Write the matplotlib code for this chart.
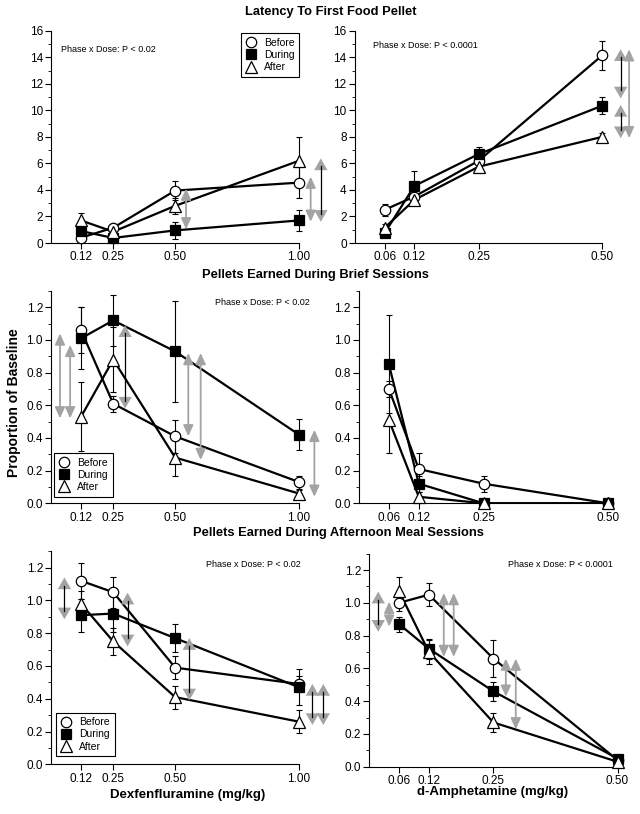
import matplotlib.pyplot as plt
from matplotlib.ticker import MultipleLocator, FormatStrFormatter

plt.rcParams['font.family'] = ['Liberation Sans', 'DejaVu Sans']

# doses
dex_doses = [0.12, 0.25, 0.50, 1.00]
amp_doses = [0.06, 0.12, 0.25, 0.50]
dex_labels = ['0.12', '0.25', '0.50', '1.00']
amp_labels = ['0.06', '0.12', '0.25', '0.50']
phases = ['Before', 'During', 'After']

# latency to first food pellet - dexfenfluramine
lat_dex_before = [0.4, 1.15, 3.95, 4.55]
lat_dex_before_err = [0.3, 0.3, 0.7, 1.15]
lat_dex_during = [0.9, 0.38, 0.95, 1.7]
lat_dex_during_err = [0.5, 0.2, 0.65, 0.8]
lat_dex_after = [1.7, 0.85, 2.8, 6.2]
lat_dex_after_err = [0.55, 0.3, 0.6, 1.8]

# latency - d-amphetamine
lat_amp_before = [2.5, 3.5, 6.2, 14.15]
lat_amp_before_err = [0.45, 0.3, 0.3, 1.1]
lat_amp_during = [0.75, 4.3, 6.7, 10.35]
lat_amp_during_err = [0.3, 1.1, 0.5, 0.65]
lat_amp_after = [1.15, 3.25, 5.75, 8.0]
lat_amp_after_err = [0.3, 0.3, 0.2, 0.3]

# brief sessions - dexfenfluramine
brief_dex_before = [1.06, 0.61, 0.41, 0.13]
brief_dex_before_err = [0.14, 0.05, 0.1, 0.04]
brief_dex_during = [1.01, 1.12, 0.93, 0.42]
brief_dex_during_err = [0.19, 0.155, 0.31, 0.095]
brief_dex_after = [0.53, 0.88, 0.28, 0.06]
brief_dex_after_err = [0.21, 0.2, 0.11, 0.02]

# brief sessions - d-amphetamine
brief_amp_before = [0.70, 0.21, 0.12, 0.0]
brief_amp_before_err = [0.05, 0.1, 0.05, 0.0]
brief_amp_during = [0.85, 0.12, 0.0, 0.0]
brief_amp_during_err = [0.3, 0.05, 0.0, 0.0]
brief_amp_after = [0.51, 0.04, 0.0, 0.0]
brief_amp_after_err = [0.2, 0.03, 0.0, 0.0]

# afternoon meal sessions - dexfenfluramine
meal_dex_before = [1.12, 1.05, 0.59, 0.49]
meal_dex_before_err = [0.11, 0.095, 0.07, 0.05]
meal_dex_during = [0.91, 0.92, 0.77, 0.47]
meal_dex_during_err = [0.1, 0.11, 0.085, 0.11]
meal_dex_after = [0.98, 0.75, 0.41, 0.26]
meal_dex_after_err = [0.08, 0.08, 0.07, 0.07]

# afternoon meal sessions - d-amphetamine
meal_amp_before = [1.0, 1.05, 0.66, 0.04]
meal_amp_before_err = [0.05, 0.07, 0.115, 0.02]
meal_amp_during = [0.87, 0.72, 0.46, 0.05]
meal_amp_during_err = [0.045, 0.06, 0.06, 0.02]
meal_amp_after = [1.07, 0.70, 0.27, 0.03]
meal_amp_after_err = [0.09, 0.075, 0.06, 0.02]

# difference arrows: (dose position, top, bottom, shaft colour)
arrows_lat_dex = [(0.544, 4.1, 1.03, 'g'), (1.047, 5.0, 1.6, 'g'), (1.088, 6.37, 1.6, 'k')]
arrows_lat_amp = [(0.537, 14.6, 10.9, 'k'), (0.537, 10.4, 7.9, 'k'), (0.554, 14.6, 7.9, 'g')]
arrows_brief_dex = [(0.035, 1.04, 0.52, 'g'), (0.076, 0.97, 0.52, 'g'), (0.298, 1.09, 0.58, 'k'),
                    (0.553, 0.92, 0.41, 'g'), (0.603, 0.92, 0.265, 'g'), (1.062, 0.45, 0.04, 'g')]
arrows_brief_amp = []
arrows_meal_dex = [(0.053, 1.14, 0.885, 'k'), (0.308, 1.047, 0.72, 'k'), (0.557, 0.77, 0.39, 'k'),
                   (1.054, 0.49, 0.24, 'k'), (1.098, 0.49, 0.24, 'k')]
arrows_meal_amp = [(0.018, 1.068, 0.824, 'k'), (0.040, 1.007, 0.855, 'g'), (0.150, 1.06, 0.67, 'g'),
                   (0.170, 1.06, 0.67, 'g'), (0.275, 0.66, 0.427, 'g'), (0.295, 0.66, 0.228, 'g')]

GREY = '#a3a3a3'
styles = [dict(marker='o', mfc='white', ms=7.5),
          dict(marker='s', mfc='black', ms=7.5),
          dict(marker='^', mfc='white', ms=8)]

fig = plt.figure(figsize=(6.4, 8.14), dpi=100)
W, H = 640.0, 814.0


def make_axes(left, bottom_px, width_px, height_px):
    return fig.add_axes([left / W, (H - bottom_px) / H, width_px / W, height_px / H])


def draw_panel(ax, doses, labels, series, errs, xmax, ymax, major, minor, fmt, arrows):
    for y, e in zip(series, errs):
        ax.errorbar(doses, y, yerr=e, fmt='none', ecolor='black', elinewidth=0.8,
                    capsize=2.2, capthick=0.8, zorder=2)
        ax.plot(doses, y, color='black', lw=1.6, zorder=3)
    for i, y in enumerate(series):
        st = styles[i]
        ax.plot(doses, y, ls='none', marker=st['marker'], mfc=st['mfc'], mec='black',
                mew=0.9, ms=st['ms'], zorder=4, clip_on=False)
    ax.set_xlim(0, xmax)
    ax.set_ylim(0, ymax)
    ax.spines['top'].set_visible(False)
    ax.spines['right'].set_visible(False)
    ax.spines['bottom'].set_bounds(0, doses[-1])
    ax.set_xticks(doses)
    ax.set_xticklabels(labels)
    ax.yaxis.set_major_locator(MultipleLocator(major))
    ax.yaxis.set_minor_locator(MultipleLocator(minor))
    ax.yaxis.set_major_formatter(FormatStrFormatter(fmt))
    ax.tick_params(direction='out', length=4, width=0.8, labelsize=8.5, pad=2)
    ax.tick_params(which='minor', direction='out', length=2.5, width=0.6)
    for s in ['left', 'bottom']:
        ax.spines[s].set_linewidth(0.8)
    # arrows
    px_per_unit = ax.transData.transform((0, 1))[1] - ax.transData.transform((0, 0))[1]
    hl = 8.0 / px_per_unit
    for x, top, bot, shaft in arrows:
        if shaft == 'g':
            style = '<|-|>,head_length=0.55,head_width=0.25'
            lw = 1.3
        else:
            style = '<|-|>,head_length=0.7,head_width=0.4'
            lw = 0.01
        ax.annotate('', xy=(x, bot), xytext=(x, top),
                    arrowprops=dict(arrowstyle=style, color=GREY, lw=lw,
                                    shrinkA=0, shrinkB=0, mutation_scale=12),
                    annotation_clip=False)
        if shaft == 'k':
            ax.plot([x, x], [bot + hl, top - hl], color='black', lw=0.9, clip_on=False, zorder=5)


def add_legend(ax, fx, fy):
    handles = []
    for st in styles:
        h, = ax.plot([], [], ls='none', marker=st['marker'], mfc=st['mfc'], mec='black',
                     mew=0.9, ms=st['ms'])
        handles.append(h)
    leg = ax.legend(handles, phases, loc='upper left', bbox_to_anchor=(fx / W, 1 - fy / H),
                    bbox_transform=fig.transFigure, borderaxespad=0, fontsize=7.5,
                    handlelength=1.1, handletextpad=0.7, labelspacing=0.2,
                    borderpad=0.45, fancybox=False, framealpha=1)
    leg.get_frame().set_edgecolor('black')
    leg.get_frame().set_linewidth(0.8)


# latency row
ax1 = make_axes(51.3, 243, 272.5, 212.3)
draw_panel(ax1, dex_doses, dex_labels, [lat_dex_before, lat_dex_during, lat_dex_after],
           [lat_dex_before_err, lat_dex_during_err, lat_dex_after_err],
           1.1, 16, 2, 1, '%d', arrows_lat_dex)
add_legend(ax1, 240.7, 33.3)

ax2 = make_axes(355, 243, 282, 212.3)
draw_panel(ax2, amp_doses, amp_labels, [lat_amp_before, lat_amp_during, lat_amp_after],
           [lat_amp_before_err, lat_amp_during_err, lat_amp_after_err],
           0.57, 16, 2, 1, '%d', arrows_lat_amp)

# brief sessions row
ax3 = make_axes(51.3, 503.3, 272.5, 212.3)
draw_panel(ax3, dex_doses, dex_labels, [brief_dex_before, brief_dex_during, brief_dex_after],
           [brief_dex_before_err, brief_dex_during_err, brief_dex_after_err],
           1.1, 1.3, 0.2, 0.1, '%.1f', arrows_brief_dex)
add_legend(ax3, 54, 453)

ax4 = make_axes(359, 503.3, 284, 212.3)
draw_panel(ax4, amp_doses, amp_labels, [brief_amp_before, brief_amp_during, brief_amp_after],
           [brief_amp_before_err, brief_amp_during_err, brief_amp_after_err],
           0.57, 1.3, 0.2, 0.1, '%.1f', arrows_brief_amp)

# afternoon meal row
ax5 = make_axes(51.3, 764.3, 272.5, 213)
draw_panel(ax5, dex_doses, dex_labels, [meal_dex_before, meal_dex_during, meal_dex_after],
           [meal_dex_before_err, meal_dex_during_err, meal_dex_after_err],
           1.1, 1.3, 0.2, 0.1, '%.1f', arrows_meal_dex)
add_legend(ax5, 56, 712.7)

ax6 = make_axes(369.3, 766.7, 283, 213)
draw_panel(ax6, amp_doses, amp_labels, [meal_amp_before, meal_amp_during, meal_amp_after],
           [meal_amp_before_err, meal_amp_during_err, meal_amp_after_err],
           0.57, 1.3, 0.2, 0.1, '%.1f', arrows_meal_amp)

# statistics notes
stat_notes = [(60.7, 49, 'Phase x Dose: P < 0.02'),
              (372.7, 45, 'Phase x Dose: P < 0.0001'),
              (215, 302.3, 'Phase x Dose: P < 0.02'),
              (206, 564.3, 'Phase x Dose: P < 0.02'),
              (508, 564.3, 'Phase x Dose: P < 0.0001')]
for x, y, t in stat_notes:
    fig.text(x / W, 1 - y / H, t, ha='left', va='center', fontsize=6.5)

# section titles and axis labels
fig.text(331 / W, 1 - 12 / H, 'Latency To First Food Pellet', ha='center', va='center',
         fontsize=9.3, fontweight='bold')
fig.text(315 / W, 1 - 275 / H, 'Pellets Earned During Brief Sessions', ha='center', va='center',
         fontsize=9.3, fontweight='bold')
fig.text(338 / W, 1 - 533 / H, 'Pellets Earned During Afternoon Meal Sessions', ha='center',
         va='center', fontsize=9.3, fontweight='bold')
fig.text(14 / W, 1 - 403 / H, 'Proportion of Baseline', rotation=90, ha='center', va='center',
         fontsize=10, fontweight='bold')
fig.text(187.5 / W, 1 - 795 / H, 'Dexfenfluramine (mg/kg)', ha='center', va='center',
         fontsize=9.5, fontweight='bold')
fig.text(493 / W, 1 - 792 / H, 'd-Amphetamine (mg/kg)', ha='center', va='center',
         fontsize=9.5, fontweight='bold')

plt.savefig('out.png', dpi=100)
